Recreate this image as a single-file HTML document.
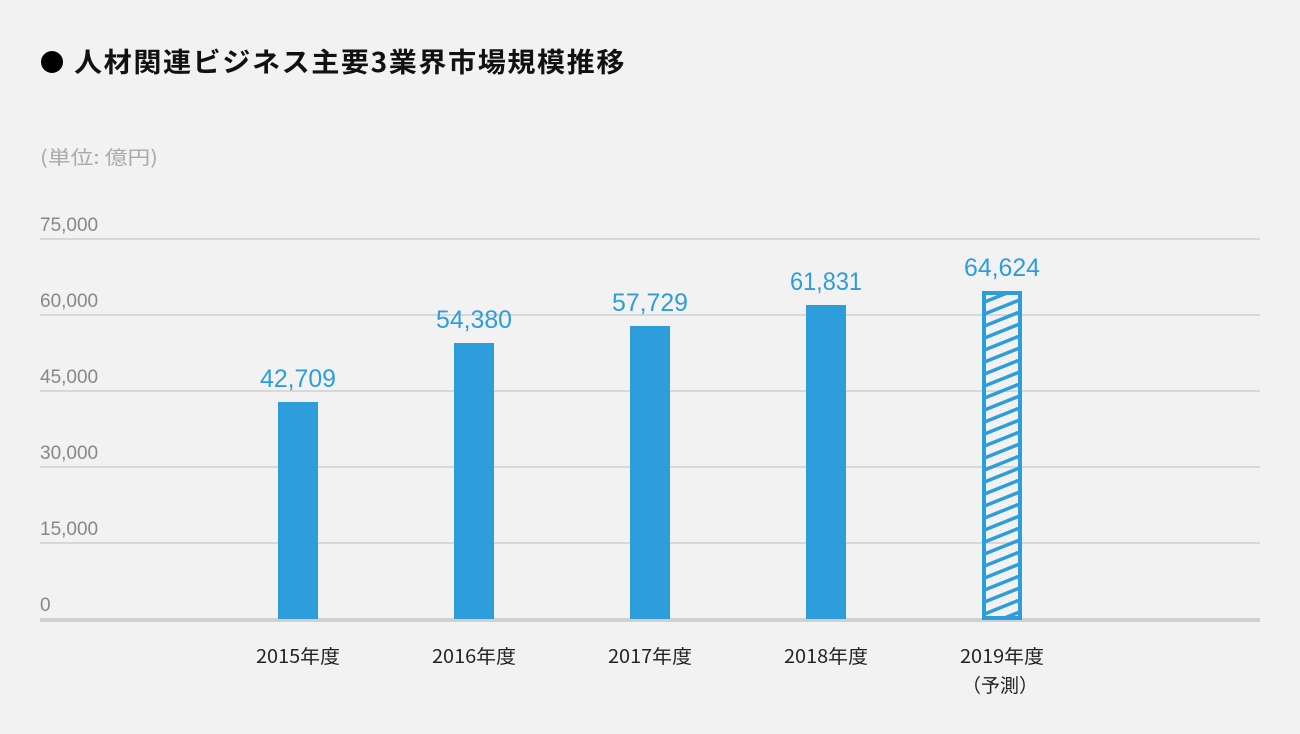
<!DOCTYPE html>
<html><head><meta charset="utf-8"><style>
body{margin:0;background:#f2f2f2;}
svg{display:block;font-family:"Liberation Sans","Noto Sans CJK JP",sans-serif;}
</style></head><body>
<svg width="1300" height="734" viewBox="0 0 1300 734">
<rect width="1300" height="734" fill="#f2f2f2"/>
<circle cx="52" cy="62" r="11" fill="#000"/>
<text x="74" y="72" font-size="27" font-weight="bold" fill="#111" letter-spacing="1.5" textLength="552" lengthAdjust="spacingAndGlyphs" font-family="'Noto Sans CJK JP',sans-serif">人材関連ビジネス主要3業界市場規模推移</text>
<text x="40" y="164" font-size="19" fill="#aaa" textLength="118" lengthAdjust="spacingAndGlyphs" font-family="'Noto Sans CJK JP',sans-serif">(単位: 億円)</text>
<g stroke="#d8d8d8" stroke-width="2">
<line x1="40" y1="239" x2="1260" y2="239"/><line x1="40" y1="315" x2="1260" y2="315"/>
<line x1="40" y1="391" x2="1260" y2="391"/><line x1="40" y1="467" x2="1260" y2="467"/>
<line x1="40" y1="543" x2="1260" y2="543"/></g>
<line x1="40" y1="620" x2="1260" y2="620" stroke="#d0d0d0" stroke-width="4"/>
<g font-size="19" fill="#888">
<text x="40" y="231">75,000</text><text x="40" y="307">60,000</text><text x="40" y="383">45,000</text>
<text x="40" y="459">30,000</text><text x="40" y="535">15,000</text><text x="40" y="611">0</text></g>
<defs><pattern id="h" width="40" height="12" patternUnits="userSpaceOnUse" patternTransform="translate(982,291)">
<path d="M-10 16 L50 -8 M-10 28 L50 4 M-10 4 L50 -20" stroke="#2e9ddb" stroke-width="3.5"/></pattern></defs>
<g fill="#2e9ddb">
<rect x="278" y="402" width="40" height="217"/>
<rect x="454" y="343" width="40" height="276"/>
<rect x="630" y="326" width="40" height="293"/>
<rect x="806" y="305" width="40" height="314"/></g>
<rect x="982" y="291" width="40" height="328" fill="url(#h)"/>
<rect x="984" y="293" width="36" height="325" fill="none" stroke="#2e9ddb" stroke-width="4"/>
<g font-size="25" fill="#2e9ddb" text-anchor="middle">
<text x="298" y="387" textLength="76" lengthAdjust="spacingAndGlyphs">42,709</text>
<text x="474" y="328" textLength="76" lengthAdjust="spacingAndGlyphs">54,380</text>
<text x="650" y="311" textLength="76" lengthAdjust="spacingAndGlyphs">57,729</text>
<text x="826" y="290" textLength="72" lengthAdjust="spacingAndGlyphs">61,831</text>
<text x="1002" y="276" textLength="76" lengthAdjust="spacingAndGlyphs">64,624</text></g>
<g font-size="19" fill="#222" text-anchor="middle" font-family="'Noto Sans CJK JP',sans-serif">
<text x="298" y="663" textLength="84" lengthAdjust="spacingAndGlyphs">2015年度</text><text x="474" y="663" textLength="84" lengthAdjust="spacingAndGlyphs">2016年度</text>
<text x="650" y="663" textLength="84" lengthAdjust="spacingAndGlyphs">2017年度</text><text x="826" y="663" textLength="84" lengthAdjust="spacingAndGlyphs">2018年度</text>
<text x="1002" y="663" textLength="84" lengthAdjust="spacingAndGlyphs">2019年度</text><text x="1000" y="692">（予測）</text></g>
</svg>
</body></html>
